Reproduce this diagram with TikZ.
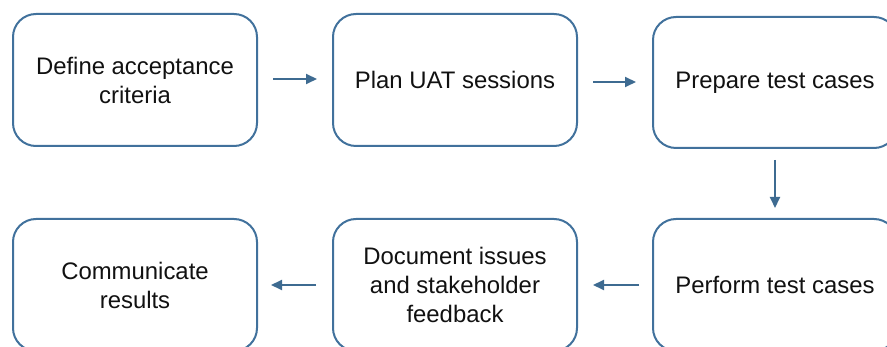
\documentclass[tikz,border=0pt]{standalone}
\usepackage{fontspec}
\setmainfont{Liberation Sans}
\usetikzlibrary{arrows.meta}
\definecolor{boxline}{HTML}{41719C}
\definecolor{arrowc}{HTML}{3E6B91}
\definecolor{txt}{HTML}{111111}
\begin{document}
\begin{tikzpicture}[x=1pt,y=-1pt,
  stepbox/.style={draw=boxline, line width=2pt, rounded corners=23pt,
    minimum width=244pt, minimum height=132pt, align=center, text=txt,
    font=\fontsize{23.9pt}{29pt}\selectfont, inner sep=0pt},
  flow/.style={draw=arrowc, line width=2pt,
    -{Triangle[length=11pt,width=10pt]}}]
\useasboundingbox (0,0) rectangle (887,347);
\clip (0,0) rectangle (887,347);
\node[stepbox] (b1) at (135,80) {Define acceptance\\criteria};
\node[stepbox] (b2) at (455,80) {Plan UAT sessions};
\node[stepbox, minimum height=131pt] (b3) at (775,82.5) {Prepare test cases};
\node[stepbox] (b6) at (775,285) {Perform test cases};
\node[stepbox] (b5) at (455,285) {Document issues\\and stakeholder\\feedback};
\node[stepbox] (b4) at (135,285) {Communicate\\results};
\draw[flow, shorten <=15pt, shorten >=15pt] (b1.east |- 0,79) -- (b2.west |- 0,79);
\draw[flow, shorten <=15pt, shorten >=16pt] (b2.east |- 0,82) -- (b3.west |- 0,82);
\draw[flow, shorten <=11pt, shorten >=10pt] (b3.south) -- (b6.north);
\draw[flow, shorten <=13pt, shorten >=15pt] (b6.west) -- (b5.east);
\draw[flow, shorten <=16pt, shorten >=13pt] (b5.west) -- (b4.east);
\end{tikzpicture}
\end{document}
